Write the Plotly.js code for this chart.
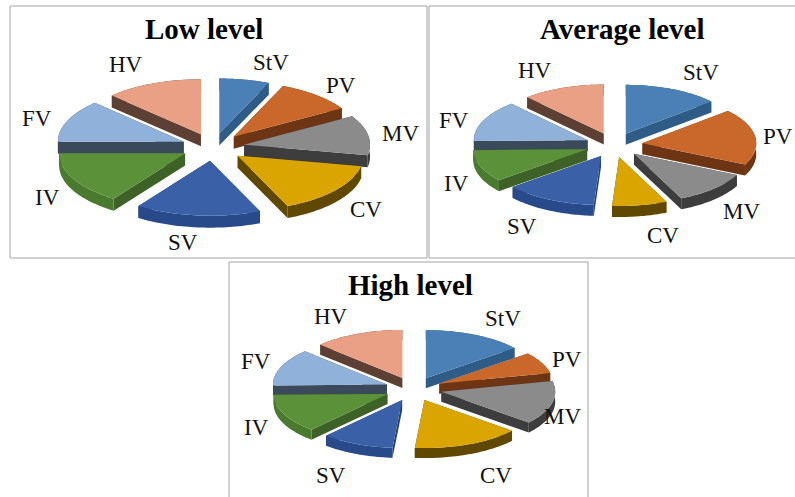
<!DOCTYPE html>
<html>
<head>
<meta charset="utf-8">
<script src="https://cdn.plot.ly/plotly-3.0.1.min.js"></script>
<style>html,body{margin:0;padding:0;background:#fff;overflow:hidden}</style>
</head>
<body>
<div id="chart" style="width:795px;height:497px"></div>
<script>
var categories = ["StV","PV","MV","CV","SV","IV","FV","HV"];
var lowValues = [6.4,10.0,11.7,15.4,16.1,15.4,12.5,12.5];
var averageValues = [13.5,18.6,11.1,7.8,13.1,10.6,13.6,11.7];
var highValues = [14.2,7.2,14.7,15.3,10.3,13.1,12.5,12.8];
var topColors = ["#4a80b6","#c9682a","#8b8b8b","#dba500","#3a60a8","#5b9239","#8fb1da","#e9a084"];
var rimColors = ["#2f5c86","#6d3513","#3d3d3d","#604800","#28498a","#4a7a2e","#3b4a5a","#5d3f33"];
var cutColors = ["#2f5c86","#6d3513","#3d3d3d","#604800","#22407a","#3e6128","#3b4a5a","#5d3f33"];

var W = 795, H = 497, PULL = 0.25;
var panels = [
  {title:"Low level", values:lowValues, box:[10,6,427,258], cx:213, cy:147, rx:126, ry:55, depth:12, titleAt:[204,29],
   labels:[[271,62],[341,85],[400,133],[366,209],[183,242],[47,197],[37,118],[126,65]]},
  {title:"Average level", values:averageValues, box:[429,6,795,258], cx:614, cy:145, rx:114, ry:49, depth:11, titleAt:[622,29],
   labels:[[701,72],[778,137],[741,211],[663,235],[522,226],[456,183],[454,120],[535,71]]},
  {title:"High level", values:highValues, box:[229,262,588,497], cx:413.5, cy:389, rx:114, ry:48, depth:10, titleAt:[410,285],
   labels:[[503,318],[567,359],[562,416],[496,475],[331,475],[256,427],[256,361],[331,316]]}
];

var traces = [], layout = {
  width:W, height:H, margin:{l:0,r:0,t:0,b:0}, paper_bgcolor:"#fff", plot_bgcolor:"#fff",
  showlegend:false, hovermode:false, annotations:[], shapes:[]
};

function poly(xs, ys, color, xa, ya) {
  traces.push({type:"scatter", x:xs, y:ys, xaxis:xa, yaxis:ya, mode:"none", fill:"toself",
    fillcolor:color, hoverinfo:"skip", showlegend:false});
}

panels.forEach(function(p, idx){
  var n = idx === 0 ? "" : String(idx+1), xa = "x"+n, ya = "y"+n;
  var b = p.box;
  layout["xaxis"+n] = {domain:[b[0]/W,b[2]/W], range:[(b[0]-p.cx)/p.rx,(b[2]-p.cx)/p.rx], visible:false, fixedrange:true, anchor:ya};
  layout["yaxis"+n] = {domain:[1-b[3]/H,1-b[1]/H], range:[(p.cy-b[3])/p.ry,(p.cy-b[1])/p.ry], visible:false, fixedrange:true, anchor:xa};

  var total = p.values.reduce(function(a,c){return a+c;},0), acc = 0;
  var slices = p.values.map(function(v,i){
    var a0 = acc/total*2*Math.PI; acc += v; var a1 = acc/total*2*Math.PI;
    return {i:i,a0:a0,a1:a1,mid:(a0+a1)/2};
  });
  slices.sort(function(s,t){return Math.cos(t.mid)-Math.cos(s.mid);});
  var d = p.depth/p.ry;
  slices.forEach(function(s){
    var ax = PULL*Math.sin(s.mid), ay = PULL*Math.cos(s.mid), steps = 40, rimX=[], rimY=[];
    for (var k=0;k<=steps;k++){
      var t = s.a0+(s.a1-s.a0)*k/steps;
      rimX.push(ax+Math.sin(t)); rimY.push(ay+Math.cos(t));
    }
    var sx = rimX[0], sy = rimY[0], ex = rimX[steps], ey = rimY[steps];
    poly([ax,sx,sx,ax,ax,null,ax,ex,ex,ax,ax],
         [ay,sy,sy-d,ay-d,ay,null,ay,ey,ey-d,ay-d,ay], cutColors[s.i], xa, ya);
    poly(rimX.concat(rimX.slice().reverse()),
         rimY.concat(rimY.slice().reverse().map(function(y){return y-d;})), rimColors[s.i], xa, ya);
    poly([ax].concat(rimX,[ax]), [ay].concat(rimY,[ay]), topColors[s.i], xa, ya);
  });

  layout.shapes.push({type:"rect", xref:"paper", yref:"paper", x0:b[0]/W, x1:(idx===1?(b[2]+20):b[2])/W,
    y0:1-(idx===2?(b[3]+20):b[3])/H, y1:1-b[1]/H, line:{color:"#a3a3a3",width:1}, fillcolor:"rgba(0,0,0,0)", layer:"above"});
  layout.annotations.push({text:"<b>"+p.title+"</b>", xref:"paper", yref:"paper", x:p.titleAt[0]/W, y:1-p.titleAt[1]/H,
    xanchor:"center", yanchor:"middle", showarrow:false, font:{family:"Liberation Serif",size:29,color:"#000"}});
  categories.forEach(function(c,i){
    layout.annotations.push({text:c, xref:"paper", yref:"paper", x:p.labels[i][0]/W, y:1-p.labels[i][1]/H,
      xanchor:"center", yanchor:"middle", showarrow:false, font:{family:"Liberation Serif",size:23,color:"#111"}});
  });
});

Plotly.newPlot("chart", traces, layout, {displayModeBar:false, staticPlot:true});
</script>
</body>
</html>
